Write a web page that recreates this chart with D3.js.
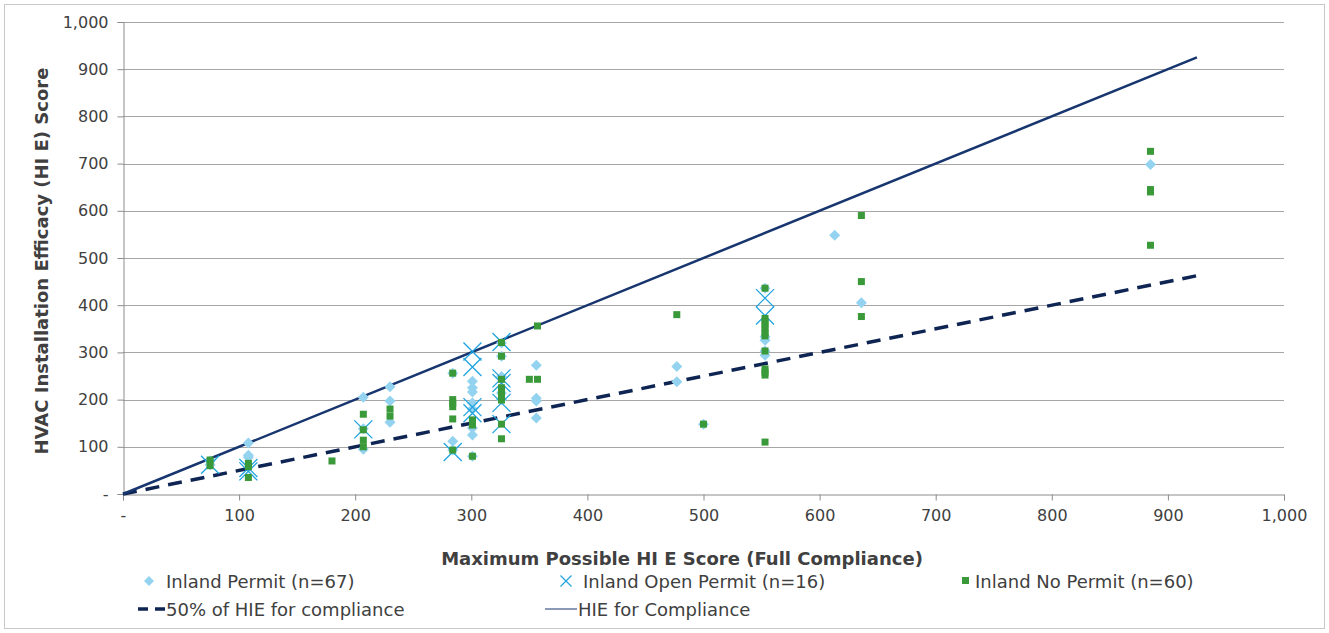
<!DOCTYPE html>
<html>
<head>
<meta charset="utf-8">
<script src="https://cdn.jsdelivr.net/npm/d3@7"></script>
<style>
  body { margin: 0; background: #fff; }
  svg { display: block; font-family: "DejaVu Sans", Verdana, sans-serif; }
</style>
</head>
<body>
<div id="chart"></div>
<script>
// [maxScore, hieScore]
const permit = [
  [75, 70], [75, 62], [108, 108], [108, 82], [108, 78],
  [207, 205], [207, 138], [207, 95], [230, 227], [230, 197], [230, 152],
  [284, 256], [284, 112], [284, 93],
  [301, 239], [301, 225], [301, 216], [301, 193], [301, 180], [301, 140], [301, 125], [301, 80],
  [326, 320], [326, 292], [326, 249], [326, 214], [326, 200],
  [356, 273], [356, 203], [356, 197], [356, 161],
  [477, 270], [477, 238], [500, 148],
  [553, 436], [553, 333], [553, 326], [553, 303], [553, 294],
  [613, 548], [636, 405], [885, 698]
];
const openPermit = [
  [75, 62], [108, 55], [108, 48], [207, 137], [284, 89],
  [301, 302], [301, 269], [301, 184], [301, 171],
  [326, 322], [326, 245], [326, 235], [326, 193], [326, 148],
  [553, 415], [553, 378]
];
const noPermit = [
  [75, 72], [75, 60], [108, 65], [108, 58], [108, 35], [180, 70],
  [207, 169], [207, 136], [207, 114], [207, 100], [230, 180], [230, 165],
  [284, 256], [284, 200], [284, 192], [284, 185], [284, 159], [284, 93],
  [301, 157], [301, 150], [301, 146], [301, 80],
  [326, 321], [326, 292], [326, 243], [326, 225], [326, 217], [326, 208], [326, 199], [326, 148], [326, 117],
  [350, 243], [357, 243], [357, 356],
  [477, 380], [500, 148],
  [553, 436], [553, 372], [553, 365], [553, 358], [553, 350], [553, 342], [553, 335], [553, 303],
  [553, 265], [553, 258], [553, 252], [553, 110],
  [636, 590], [636, 450], [636, 376],
  [885, 726], [885, 645], [885, 640], [885, 527]
];
const lineEnds = [0, 925];
const xTicks = d3.range(0, 1001, 100);
const yTicks = d3.range(0, 1001, 100);

const W = 1329, H = 633;
const m = {left: 123, right: 45, top: 22, bottom: 139};

const svg = d3.select("#chart").append("svg").attr("width", W).attr("height", H);

svg.append("rect").attr("x", 4.5).attr("y", 4.5).attr("width", W - 9).attr("height", H - 9)
  .attr("fill", "none").attr("stroke", "#c8c8c8");

const x = d3.scaleLinear().domain([0, 1000]).range([m.left, W - m.right]);
const y = d3.scaleLinear().domain([0, 1000]).range([H - m.bottom, m.top]);
const fmt = v => v === 0 ? "-" : d3.format(",")(v);

// gridlines
svg.append("g").selectAll("line").data(yTicks.slice(1)).join("line")
  .attr("x1", x(0)).attr("x2", x(1000))
  .attr("y1", d => Math.round(y(d)) + 0.5).attr("y2", d => Math.round(y(d)) + 0.5)
  .attr("stroke", "#a6a6a6").attr("stroke-width", 1);

const xAxis = svg.append("g").attr("transform", `translate(0,${Math.round(y(0)) + 0.5})`)
  .call(d3.axisBottom(x).tickValues(xTicks).tickFormat(fmt).tickSize(6).tickPadding(9));
const yAxis = svg.append("g").attr("transform", `translate(${Math.round(x(0)) + 0.5},0)`)
  .call(d3.axisLeft(y).tickValues(yTicks).tickFormat(fmt).tickSize(6).tickPadding(9));
[xAxis, yAxis].forEach(a => {
  a.selectAll("path, line").attr("stroke", "#8c8c8c");
  a.selectAll("text").attr("font-size", 16).attr("fill", "#404040")
    .attr("font-family", "DejaVu Sans, Verdana, sans-serif");
});

// reference lines
const ln = d3.line().x(d => x(d[0])).y(d => y(d[1]));
svg.append("path").datum(lineEnds.map(v => [v, v / 2])).attr("d", ln)
  .attr("fill", "none").attr("stroke", "#0e2452").attr("stroke-width", 3.5)
  .attr("stroke-dasharray", "14,9");
svg.append("path").datum(lineEnds.map(v => [v, v])).attr("d", ln)
  .attr("fill", "none").attr("stroke", "#17356e").attr("stroke-width", 2.5);

// markers
const diamond = s => `M0,${-s}L${s},0L0,${s}L${-s},0Z`;
svg.append("g").selectAll("path").data(permit).join("path")
  .attr("transform", d => `translate(${x(d[0])},${y(d[1])})`)
  .attr("d", diamond(5.5)).attr("fill", "#93d3f0");

const cross = s => `M${-s},${-s}L${s},${s}M${-s},${s}L${s},${-s}`;
svg.append("g").selectAll("path").data(openPermit).join("path")
  .attr("transform", d => `translate(${x(d[0])},${y(d[1])})`)
  .attr("d", cross(9)).attr("fill", "none").attr("stroke", "#1fa3e0").attr("stroke-width", 1.3);

svg.append("g").selectAll("rect").data(noPermit).join("rect")
  .attr("x", d => x(d[0]) - 3.5).attr("y", d => y(d[1]) - 3.5)
  .attr("width", 7).attr("height", 7).attr("fill", "#3a9a3a");

// axis titles
svg.append("text").attr("x", 682).attr("y", 565)
  .attr("text-anchor", "middle").attr("font-size", 18).attr("font-weight", "bold").attr("fill", "#404040")
  .text("Maximum Possible HI E Score (Full Compliance)");
svg.append("text").attr("transform", `translate(48,261) rotate(-90)`)
  .attr("text-anchor", "middle").attr("font-size", 18).attr("font-weight", "bold").attr("fill", "#404040")
  .text("HVAC Installation Efficacy (HI E) Score");

// legend
const lg = svg.append("g").attr("font-size", 18).attr("fill", "#404040");
lg.append("path").attr("transform", "translate(149,581)").attr("d", diamond(5)).attr("fill", "#93d3f0");
lg.append("text").attr("x", 166).attr("y", 588).text("Inland Permit (n=67)");
lg.append("path").attr("transform", "translate(566,581)").attr("d", cross(5.5))
  .attr("stroke", "#1fa3e0").attr("stroke-width", 1.2);
lg.append("text").attr("x", 583).attr("y", 588).text("Inland Open Permit (n=16)");
lg.append("rect").attr("x", 962).attr("y", 577).attr("width", 7).attr("height", 7).attr("fill", "#3a9a3a");
lg.append("text").attr("x", 975).attr("y", 588).text("Inland No Permit (n=60)");
lg.append("line").attr("x1", 138).attr("x2", 166).attr("y1", 609).attr("y2", 609)
  .attr("stroke", "#0e2452").attr("stroke-width", 3.5).attr("stroke-dasharray", "10,7");
lg.append("text").attr("x", 166).attr("y", 616).text("50% of HIE for compliance");
lg.append("line").attr("x1", 545).attr("x2", 577).attr("y1", 609).attr("y2", 609)
  .attr("stroke", "#17356e").attr("stroke-width", 1);
lg.append("text").attr("x", 578).attr("y", 616).text("HIE for Compliance");
</script>
</body>
</html>
